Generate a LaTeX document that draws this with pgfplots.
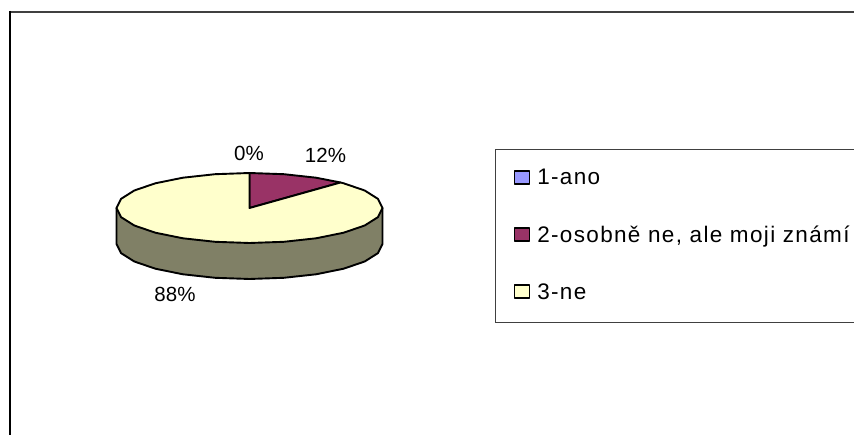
\documentclass[border=0pt]{standalone}
\usepackage{fontspec}
\setmainfont{Liberation Sans}
\usepackage{pgfplots}
\pgfplotsset{compat=1.18}
\definecolor{annoblue}{HTML}{9999FF}
\definecolor{plum}{HTML}{993366}
\definecolor{cream}{HTML}{FFFFCC}
\definecolor{sideolive}{HTML}{808066}
\definecolor{frame}{HTML}{404040}
\newcommand{\lab}{\fontsize{20.5}{24}\selectfont}
\begin{document}
\begin{tikzpicture}
\begin{axis}[
    width=854pt, height=435pt, scale only axis,
    xmin=0, xmax=854, ymin=0, ymax=435, y dir=reverse,
    hide axis,
    pie/.style={draw=black, line width=1.9pt, line join=round},
    legend image code/.code={
        \path[#1, draw=black, line width=1.5pt] (0pt,-6pt) rectangle (15pt,7pt);
        \path[draw=none, fill=none] (0pt,0pt) -- (20pt,0pt);},
    legend style={
        at={(axis cs:513.5,166.5)}, anchor=north west, draw=none, fill=none,
        font=\addfontfeature{LetterSpace=6}\fontsize{22.5}{26}\selectfont,
        row sep=33.5pt, inner sep=0pt, outer sep=0pt,
        nodes={inner sep=3pt, anchor=west},
    },
    legend cell align=left,
]
% chart frame and legend box
\addplot[forget plot, frame, line width=2pt] coordinates {(9.5,12) (854,12)};
\addplot[forget plot, black, line width=2pt] coordinates {(9.5,11) (9.5,435)};
\addplot[forget plot, frame, line width=1pt] coordinates {(854,150) (495,150) (495,323) (854,323)};

% side wall of the disc
\addplot[forget plot, pie, fill=sideolive] coordinates {
    (382.5,208) (382.5,244) (378,253.1) (364.7,261.5) (343.5,268.75) (316,274.3) (283.9,277.8)
    (249.5,279) (215.1,277.8) (183,274.3) (155.5,268.75) (134.3,261.5) (121,253.1) (116.5,244)
    (116.5,208)} -- cycle;

% slices: 0 %, 12 %, 88 %
\addplot[pie, fill=annoblue] coordinates {(249.5,208) (249.5,173)} -- cycle;
\addlegendentry{1-ano}
\addplot[pie, fill=plum] coordinates {
    (249.5,208) (249.5,173) (283.9,174.2) (316,177.7) (340.5,182.5)} -- cycle;
\addlegendentry{2-osobně ne, ale moji známí}
\addplot[pie, fill=cream] coordinates {
    (249.5,208) (340.5,182.5) (343.5,183.25) (364.7,190.5) (378,198.9) (382.5,208)
    (378,217.1) (364.7,225.5) (343.5,232.75) (316,238.3) (283.9,241.8) (249.5,243)
    (215.1,241.8) (183,238.3) (155.5,232.75) (134.3,225.5) (121,217.1) (116.5,208)
    (121,198.9) (134.3,190.5) (155.5,183.25) (183,177.7) (215.1,174.2) (249.5,173)} -- cycle;
\addlegendentry{3-ne}

\node[font=\lab] at (axis cs:249,153) {0\%};
\node[font=\lab] at (axis cs:325.5,155) {12\%};
\node[font=\lab] at (axis cs:175,294) {88\%};
\end{axis}
\pgfresetboundingbox
\path[use as bounding box] (0,0) rectangle (854pt,435pt);
\end{tikzpicture}
\end{document}
